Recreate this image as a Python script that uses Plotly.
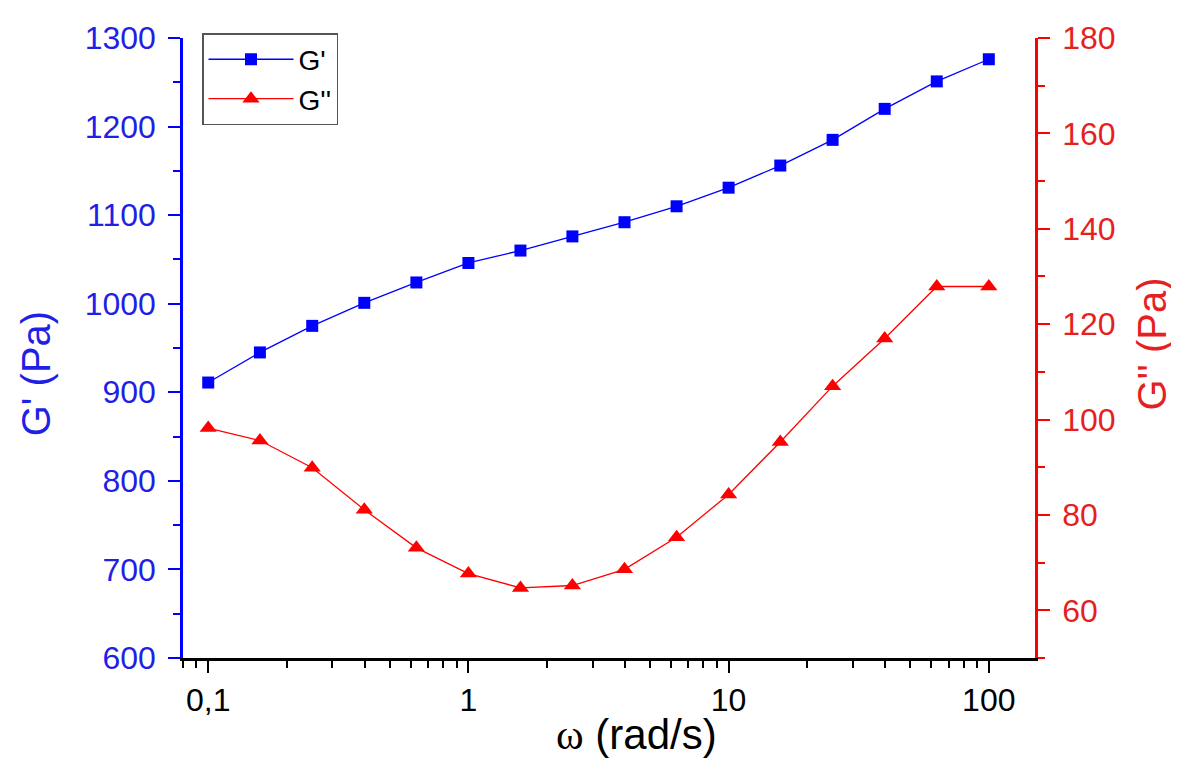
import plotly.graph_objects as go
import numpy as np

omega = [0.1, 0.158, 0.251, 0.398, 0.631, 1.0, 1.585, 2.51, 3.98, 6.31,
         10.0, 15.8, 25.1, 39.8, 63.1, 100.0]
g_storage = [911, 945, 975, 1001, 1024, 1046, 1060, 1076, 1092, 1110,
             1131, 1156, 1185, 1220, 1251, 1276]
g_loss = [98.2, 95.6, 89.9, 81.1, 73.1, 67.7, 64.7, 65.2, 68.6, 75.3,
          84.3, 95.3, 107.0, 117.0, 127.9, 127.9]

x_tickvals = [0.1, 1, 10, 100]
x_ticktext = ["0,1", "1", "10", "100"]
x_minor = [0.08, 0.09] + [m * 10.0 ** e for e in (-1, 0, 1) for m in range(2, 10)]

BLUE = "#0000FF"
RED = "#FF0000"
FONT = "Liberation Sans, Arial, sans-serif"

# page body has an 8px margin; compensate so the plot lands where intended
OFF = 8
W, H = 1179 - OFF, 763 - OFF
L, R, T, B = 183 - OFF, 1179 - 1035, 33 - OFF, 763 - 658
PW, PH = 1035 - 183, 658 - 33

fig = go.Figure()
fig.add_trace(go.Scatter(
    x=omega, y=g_storage, name="G'", mode="lines+markers",
    line=dict(color=BLUE, width=1.3),
    marker=dict(symbol="square", size=12, color=BLUE),
    yaxis="y"))
fig.add_trace(go.Scatter(
    x=omega, y=g_loss, name="G''", mode="lines+markers",
    line=dict(color=RED, width=1.3),
    marker=dict(symbol="triangle-up", size=15, color=RED),
    yaxis="y2"))

fig.update_layout(
    width=W, height=H,
    margin=dict(l=L, r=R, t=T, b=B),
    paper_bgcolor="white", plot_bgcolor="white",
    font=dict(family=FONT, size=32, color="black"),
    showlegend=True,
    legend=dict(x=(202 - 183) / PW, y=1.008, xanchor="left", yanchor="top",
                bordercolor="#555555", borderwidth=1.5, bgcolor="white",
                font=dict(size=28, color="black"), itemwidth=85,
                tracegroupgap=0),
    xaxis=dict(type="log", range=[np.log10(0.08), np.log10(150.5)],
               showline=True, linecolor="black", linewidth=2.5,
               ticks="outside", ticklen=12, tickwidth=2, tickcolor="black",
               tickmode="array", tickvals=x_tickvals, ticktext=x_ticktext,
               tickfont=dict(size=32, color="black"),
               minor=dict(tickmode="array", tickvals=x_minor, ticks="outside",
                          ticklen=7, tickwidth=2, tickcolor="black"),
               showgrid=False, zeroline=False, mirror=False),
    yaxis=dict(range=[600, 1300], dtick=100, tick0=0,
               showline=True, linecolor=BLUE, linewidth=2.5,
               ticks="outside", ticklen=12, tickwidth=2, tickcolor=BLUE,
               tickfont=dict(size=32, color="#1f1fe6"),
               ticklabelstandoff=6,
               minor=dict(dtick=50, ticks="outside", ticklen=7, tickwidth=2,
                          tickcolor=BLUE),
               showgrid=False, zeroline=False),
    yaxis2=dict(range=[50, 180], dtick=20, tick0=0, overlaying="y", side="right",
                showline=True, linecolor=RED, linewidth=2.5,
                ticks="outside", ticklen=12, tickwidth=2, tickcolor=RED,
                tickfont=dict(size=32, color="#e61f1f"),
                ticklabelstandoff=6,
                minor=dict(dtick=10, ticks="outside", ticklen=7, tickwidth=2,
                           tickcolor=RED),
                showgrid=False, zeroline=False),
)

fig.add_annotation(text="G' (Pa)", xref="paper", yref="paper",
                   x=(36 - 183) / PW, y=(658 - 372) / PH, textangle=-90,
                   showarrow=False, xanchor="center", yanchor="middle",
                   font=dict(size=40, color="#1f1fe6", family=FONT))
fig.add_annotation(text="G'' (Pa)", xref="paper", yref="paper",
                   x=(1152 - 183) / PW, y=(658 - 342) / PH, textangle=-90,
                   showarrow=False, xanchor="center", yanchor="middle",
                   font=dict(size=40, color="#e61f1f", family=FONT))
fig.add_annotation(text="<span style='font-family:Liberation Serif, Times New Roman, serif'>ω</span> (rad/s)",
                   xref="paper", yref="paper",
                   x=(636 - 183) / PW, y=-(735 - 658) / PH,
                   showarrow=False, xanchor="center", yanchor="middle",
                   font=dict(size=42, color="black", family=FONT))

fig.write_html("out.html")
